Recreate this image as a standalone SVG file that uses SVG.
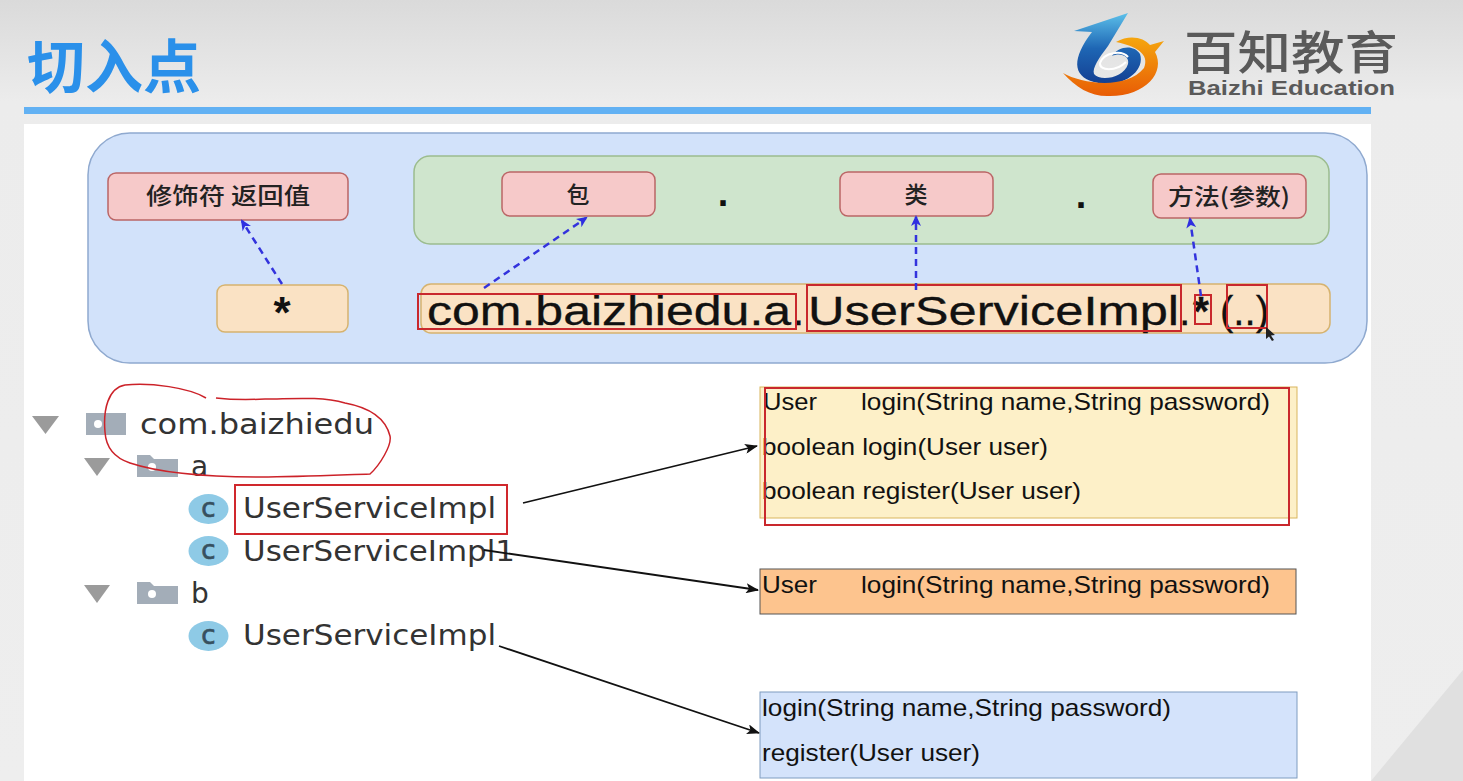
<svg xmlns="http://www.w3.org/2000/svg" width="1463" height="781" viewBox="0 0 1463 781">
<style>
text{font-family:"Liberation Sans","Noto Sans CJK SC",sans-serif;fill:#111}
.cj{font-family:"Noto Sans CJK SC",sans-serif;font-size:23px;font-weight:500;text-anchor:middle;fill:#222}
.pink{fill:#f6c9c9;stroke:#bb6666;stroke-width:1.5}
.peach{fill:#fae2c4;stroke:#d6b36f;stroke-width:1.5}
.red{fill:none;stroke:#c9282d;stroke-width:2}
.dash{fill:none;stroke:#3333dd;stroke-width:2.5;stroke-dasharray:7 5;marker-end:url(#ba)}
.blk{fill:none;stroke:#111;stroke-width:1.8;marker-end:url(#ka)}
.tree{font-family:"DejaVu Sans",sans-serif;font-size:28px;fill:#333}
.code{font-size:24px}
.tri{fill:#9b9b9b}.fold{fill:#a3adb8}.cc{fill:#8ecae6}
.cl{font-family:"DejaVu Sans",sans-serif;font-size:26px;fill:#37505f;stroke:#37505f;stroke-width:.7;text-anchor:middle}
</style>
<defs>
<linearGradient id="bg" x1="0" y1="0" x2="0" y2="1"><stop offset="0" stop-color="#dadada"/><stop offset="0.13" stop-color="#ececec"/><stop offset="1" stop-color="#eeeeee"/></linearGradient>
<linearGradient id="lb" x1="0" y1="0" x2="0" y2="1"><stop offset="0" stop-color="#5cc0ea"/><stop offset="0.5" stop-color="#1e66b4"/><stop offset="1" stop-color="#143f92"/></linearGradient>
<linearGradient id="lo" x1="0" y1="0" x2="0" y2="1"><stop offset="0" stop-color="#f5a60f"/><stop offset="1" stop-color="#e85c05"/></linearGradient>
<marker id="ba" markerWidth="12" markerHeight="10" refX="9" refY="5" orient="auto" markerUnits="userSpaceOnUse"><path d="M0 0L11 5L0 10L3 5Z" fill="#2f2fe0"/></marker>
<marker id="ka" markerWidth="14" markerHeight="10" refX="12" refY="5" orient="auto" markerUnits="userSpaceOnUse"><path d="M0 0L13 5L0 10L3 5Z" fill="#111"/></marker>
</defs>
<rect id="background" width="1463" height="781" fill="url(#bg)"/>
<path d="M1371 781L1463 670V781Z" fill="#e0e0e0"/>
<g id="title"><text x="27" y="88" font-size="58" font-weight="700" style="font-family:'Noto Sans CJK SC',sans-serif;fill:#2a90ea">切入点</text></g>
<g id="logo">
<path d="M1074 31L1128 13L1108 46C1099 58 1092 68 1094 74C1100 82 1124 78 1128 64C1130 56 1120 52 1112 56C1118 46 1134 44 1140 54C1146 72 1120 90 1094 82C1072 76 1072 58 1092 32Z" fill="url(#lb)"/>
<path d="M1116 42C1130 34 1144 38 1150 45L1164 41L1155 52C1166 72 1146 96 1110 96C1092 97 1076 88 1063 73C1082 84 1126 90 1144 68C1150 54 1136 46 1116 42Z" fill="url(#lo)"/>
<path d="M1128 57C1122 50 1104 52 1100 63C1099 71 1116 72 1126 62" fill="none" stroke="#fff" stroke-width="2"/>
<text x="1184" y="69" font-size="46" font-weight="500" textLength="214" lengthAdjust="spacingAndGlyphs" style="font-family:'Noto Sans CJK SC',sans-serif;fill:#5a5a5a">百知教育</text>
<text x="1188" y="95" font-size="21" font-weight="700" style="fill:#5a5a5a" textLength="207" lengthAdjust="spacingAndGlyphs">Baizhi Education</text>
</g>
<rect id="title-rule" x="24" y="107" width="1347" height="7" fill="#62b1f3"/>
<rect id="slide" x="24" y="124" width="1347" height="657" fill="#fff"/>
<g id="syntax-panel"><rect x="88" y="133" width="1279" height="230" rx="42" fill="#d2e2fa" stroke="#8fa9cf" stroke-width="1.5"/></g>
<g id="path-panel"><rect x="414" y="156" width="915" height="88" rx="16" fill="#cfe5cd" stroke="#9cbc8e" stroke-width="1.5"/></g>
<g id="node-modifier"><rect class="pink" x="108" y="173" width="240" height="47" rx="8"/><text class="cj" x="228" y="204" textLength="164" lengthAdjust="spacingAndGlyphs">修饰符 返回值</text></g>
<g id="node-package"><rect class="pink" x="502" y="172" width="153" height="44" rx="8"/><text class="cj" x="578" y="203">包</text></g>
<g id="node-class"><rect class="pink" x="840" y="172" width="153" height="44" rx="8"/><text class="cj" x="916" y="203">类</text></g>
<g id="node-method"><rect class="pink" x="1153" y="174" width="153" height="44" rx="8"/><text class="cj" x="1229" y="205" textLength="122" lengthAdjust="spacingAndGlyphs">方法(参数)</text></g>
<g id="dots"><text x="723" y="206" font-size="38" font-weight="700" text-anchor="middle">.</text><text x="1081" y="208" font-size="38" font-weight="700" text-anchor="middle">.</text></g>
<g id="node-star"><rect class="peach" x="217" y="285" width="131" height="47" rx="8"/><text x="282" y="328" font-size="44" font-weight="700" text-anchor="middle">*</text></g>
<g id="node-expression"><rect class="peach" x="421" y="284" width="909" height="49" rx="10"/>
<text y="325" font-size="41" stroke="#111" stroke-width=".3" xml:space="preserve"><tspan x="427" textLength="378" lengthAdjust="spacingAndGlyphs">com.baizhiedu.a.</tspan><tspan x="808" textLength="371" lengthAdjust="spacingAndGlyphs">UserServiceImpl</tspan><tspan x="1179">.</tspan><tspan x="1193" font-weight="700">*</tspan><tspan x="1220" textLength="49" lengthAdjust="spacingAndGlyphs">(..)</tspan></text>
<rect class="red" x="418" y="294" width="378" height="35"/><rect class="red" x="807" y="285" width="374" height="46"/><rect class="red" x="1195" y="295" width="16" height="29"/><rect class="red" x="1227" y="285" width="40" height="43"/>
<path d="M1266 327V339L1269 336.500L1272 341L1274 340L1271 335.500L1275 335Z" fill="#222"/></g>
<g id="tree">
<path class="tri" d="M32 416H59L45.500 434Z"/>
<path class="fold" d="M86 413H126V435H86Z"/><circle cx="98" cy="424" r="4" fill="#fff"/>
<text class="tree" x="140" y="434" textLength="234" lengthAdjust="spacingAndGlyphs">com.baizhiedu</text>
<path class="tri" d="M84 458H110L97 476Z"/>
<path class="fold" d="M137 455H150L154 459H178V477H137Z"/><circle cx="152" cy="467" r="4" fill="#fff"/>
<text class="tree" x="191" y="476">a</text>
<ellipse class="cc" cx="208.500" cy="509" rx="20" ry="15"/><text class="cl" x="208.500" y="517">c</text>
<text class="tree" x="243" y="518" textLength="253" lengthAdjust="spacingAndGlyphs">UserServiceImpl</text>
<ellipse class="cc" cx="208.500" cy="551" rx="20" ry="15"/><text class="cl" x="208.500" y="559">c</text>
<text class="tree" x="243" y="561" textLength="272" lengthAdjust="spacingAndGlyphs">UserServiceImpl1</text>
<path class="tri" d="M84 585H110L97 603Z"/>
<path class="fold" d="M137 582H150L154 586H178V604H137Z"/><circle cx="152" cy="594" r="4" fill="#fff"/>
<text class="tree" x="191" y="603">b</text>
<ellipse class="cc" cx="208.500" cy="636" rx="20" ry="15"/><text class="cl" x="208.500" y="644">c</text>
<text class="tree" x="243" y="645" textLength="253" lengthAdjust="spacingAndGlyphs">UserServiceImpl</text>
<rect x="235" y="485" width="272" height="49" fill="none" stroke="#d0282d" stroke-width="2"/>
<path d="M206 398C190 388 150 382 125 385C108 388 103 410 105 432C106 448 115 458 130 463C160 473 200 477 260 477C300 477 340 475 370 474C380 465 392 445 390 436C386 420 372 408 345 403C320 396 290 399 265 399C245 400 225 399 216 398" fill="none" stroke="#cc2229" stroke-width="1.500"/>
</g>
<g id="list-all"><rect x="760" y="387" width="537" height="131" fill="#fdf0c8" stroke="#d9b65e"/>
<text class="code" x="763" y="410" textLength="54" lengthAdjust="spacingAndGlyphs">User</text><text class="code" x="861" y="410" textLength="409" lengthAdjust="spacingAndGlyphs">login(String name,String password)</text>
<text class="code" x="762" y="455" textLength="286" lengthAdjust="spacingAndGlyphs">boolean login(User user)</text>
<text class="code" x="762" y="499" textLength="319" lengthAdjust="spacingAndGlyphs">boolean register(User user)</text>
<rect x="765" y="388" width="524" height="137" fill="none" stroke="#c9282d" stroke-width="2"/></g>
<g id="list-user"><rect x="760" y="569" width="536" height="45" fill="#fdc48e" stroke="#555"/>
<text class="code" x="762" y="593" textLength="55" lengthAdjust="spacingAndGlyphs">User</text><text class="code" x="861" y="593" textLength="409" lengthAdjust="spacingAndGlyphs">login(String name,String password)</text></g>
<g id="list-any"><rect x="760" y="692" width="537" height="86" fill="#d4e3fb" stroke="#7f9cc0"/>
<text class="code" x="762" y="716" textLength="409" lengthAdjust="spacingAndGlyphs">login(String name,String password)</text>
<text class="code" x="762" y="761" textLength="218" lengthAdjust="spacingAndGlyphs">register(User user)</text></g>
<g id="connectors">
<path class="dash" d="M282 284L242 221"/>
<path class="dash" d="M484 288L586 218"/>
<path class="dash" d="M916 290V217"/>
<path class="dash" d="M1201 296L1190 219"/>
<path class="blk" d="M523 503L757 446"/>
<path class="blk" d="M484 550L758 590"/>
<path class="blk" d="M499 646L759 733"/>
</g>
</svg>
